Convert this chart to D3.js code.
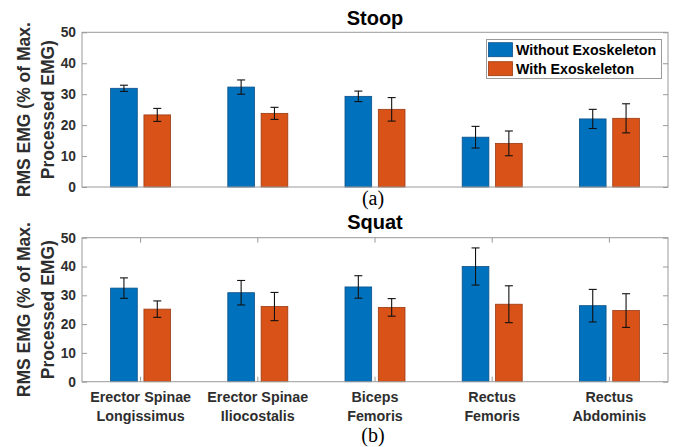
<!DOCTYPE html>
<html>
<head>
<meta charset="utf-8">
<script src="https://cdn.jsdelivr.net/npm/d3@7/dist/d3.min.js"></script>
<style>
  html, body { margin: 0; padding: 0; background: #fff; }
  svg { display: block; font-family: "Liberation Sans", Arial, sans-serif; }
</style>
</head>
<body>
<svg id="chart" width="676" height="447"></svg>
<script>
// Muscle groups (two-line labels on the shared x axis)
const muscles = [
  ["Erector Spinae", "Longissimus"],
  ["Erector Spinae", "Iliocostalis"],
  ["Biceps", "Femoris"],
  ["Rectus", "Femoris"],
  ["Rectus", "Abdominis"]
];
const seriesNames = ["Without Exoskeleton", "With Exoskeleton"];
const seriesColors = ["#0072BD", "#D95319"];
const seriesEdges = ["#0a4f86", "#9a3a12"];

// Stoop task: mean RMS EMG and standard deviation
const stoopWithout    = [31.9, 32.3, 29.3, 16.1, 22.0];
const stoopWithoutErr = [1.0, 2.3, 1.7, 3.5, 3.1];
const stoopWith       = [23.3, 23.8, 25.1, 14.1, 22.2];
const stoopWithErr    = [2.1, 1.95, 3.8, 4.0, 4.7];

// Squat task
const squatWithout    = [32.5, 30.9, 32.9, 40.0, 26.4];
const squatWithoutErr = [3.55, 4.25, 3.9, 6.45, 5.65];
const squatWith       = [25.2, 26.1, 25.8, 26.9, 24.7];
const squatWithErr    = [2.85, 4.9, 3.05, 6.4, 5.85];

const yTicks = [0, 10, 20, 30, 40, 50];

const svg = d3.select("#chart");
const axisColor = "#9a9a9a";
const textColor = "#2e2e2e";

function panel(opts) {
  const { left, right, top, bottom, title, titleY, means, errs, showX, legend, caption, captionY } = opts;
  const g = svg.append("g");
  const keys = muscles.map(m => m.join(" "));
  const x = d3.scaleBand().domain(keys).range([left, right]).padding(0);
  const bw = x.bandwidth();
  const xs = d3.scaleBand().domain([0, 1]).range([bw / 2 - 30, bw / 2 + 30]).paddingInner(0.2);
  const y = d3.scaleLinear().domain([0, 50]).range([bottom, top]);

  // bars
  means.forEach((vals, si) => {
    g.selectAll(null).data(vals).enter().append("rect")
      .attr("x", (d, i) => x(keys[i]) + xs(si))
      .attr("y", d => y(d))
      .attr("width", xs.bandwidth())
      .attr("height", d => y(0) - y(d))
      .attr("fill", seriesColors[si])
      .attr("stroke", seriesEdges[si])
      .attr("stroke-width", 0.8);
  });

  // error bars
  means.forEach((vals, si) => {
    vals.forEach((v, i) => {
      const cx = x(keys[i]) + xs(si) + xs.bandwidth() / 2;
      const e = errs[si][i];
      const eg = g.append("g").attr("stroke", "#111").attr("stroke-width", 1.1);
      eg.append("line").attr("x1", cx).attr("x2", cx).attr("y1", y(v + e)).attr("y2", y(v - e));
      eg.append("line").attr("x1", cx - 4).attr("x2", cx + 4).attr("y1", y(v + e)).attr("y2", y(v + e));
      eg.append("line").attr("x1", cx - 4).attr("x2", cx + 4).attr("y1", y(v - e)).attr("y2", y(v - e));
    });
  });

  // box
  g.append("rect").attr("x", left).attr("y", top).attr("width", right - left).attr("height", bottom - top)
    .attr("fill", "none").attr("stroke", axisColor).attr("stroke-width", 1);

  // left axis
  const ya = d3.axisLeft(y).tickValues(yTicks).tickSize(-5).tickPadding(6);
  const yg = g.append("g").attr("transform", `translate(${left},0)`).call(ya);
  yg.select(".domain").remove();
  yg.selectAll(".tick line").attr("stroke", axisColor);
  yg.selectAll(".tick text").attr("fill", textColor).attr("font-size", 13.8).attr("font-weight", "bold")
    .attr("font-family", "Liberation Sans, Arial, sans-serif");

  // right axis ticks
  const yr = d3.axisRight(y).tickValues(yTicks).tickSize(-5).tickFormat("");
  const yrg = g.append("g").attr("transform", `translate(${right},0)`).call(yr);
  yrg.select(".domain").remove();
  yrg.selectAll(".tick line").attr("stroke", axisColor);

  if (showX) {
    const xb = d3.axisBottom(x).tickSize(-5).tickFormat("");
    const xbg = g.append("g").attr("transform", `translate(0,${bottom})`).call(xb);
    xbg.select(".domain").remove();
    xbg.selectAll(".tick line").attr("stroke", axisColor);
    const xt = d3.axisTop(x).tickSize(-5).tickFormat("");
    const xtg = g.append("g").attr("transform", `translate(0,${top})`).call(xt);
    xtg.select(".domain").remove();
    xtg.selectAll(".tick line").attr("stroke", axisColor);

    muscles.forEach((lines, i) => {
      const t = g.append("text")
        .attr("x", x(keys[i]) + bw / 2)
        .attr("y", bottom + 20)
        .attr("text-anchor", "middle")
        .attr("font-size", 14.3).attr("font-weight", "bold").attr("fill", textColor);
      lines.forEach((ln, k) => {
        t.append("tspan").attr("x", x(keys[i]) + bw / 2).attr("dy", k === 0 ? 0 : 19.5).text(ln);
      });
    });
  }

  // title
  g.append("text").attr("x", (left + right) / 2).attr("y", titleY)
    .attr("text-anchor", "middle").attr("font-size", 20).attr("font-weight", "bold").attr("fill", "#000")
    .text(title);

  // y label (two lines, rotated)
  const cy = (top + bottom) / 2;
  const yl = g.append("text").attr("transform", `translate(30,${cy}) rotate(-90)`)
    .attr("text-anchor", "middle").attr("font-size", 17.5).attr("font-weight", "bold").attr("fill", textColor);
  yl.append("tspan").attr("x", 0).attr("dy", 0).text("RMS EMG (% of Max.");
  yl.append("tspan").attr("x", 0).attr("dy", 24).text("Processed EMG)");

  // caption
  svg.append("text").attr("x", 373).attr("y", captionY)
    .attr("text-anchor", "middle").attr("font-family", "Liberation Serif, Times New Roman, serif")
    .attr("font-size", 20).attr("fill", "#000").text(caption);

  if (legend) {
    const lg = g.append("g");
    lg.append("rect").attr("x", 486.5).attr("y", 39.5).attr("width", 175).attr("height", 39)
      .attr("fill", "#fff").attr("stroke", axisColor).attr("stroke-width", 1);
    seriesNames.forEach((name, si) => {
      const yy = 42.7 + si * 19;
      lg.append("rect").attr("x", 488.5).attr("y", yy).attr("width", 24).attr("height", 14)
        .attr("fill", seriesColors[si]).attr("stroke", seriesEdges[si]).attr("stroke-width", 0.8);
      lg.append("text").attr("x", 516).attr("y", yy + 12.5)
        .attr("font-size", 14.2).attr("font-weight", "bold").attr("fill", "#000").text(name);
    });
  }
}

panel({ left: 82, right: 668, top: 32.3, bottom: 187, title: "Stoop", titleY: 25,
  means: [stoopWithout, stoopWith], errs: [stoopWithoutErr, stoopWithErr],
  showX: false, legend: true, caption: "(a)", captionY: 205 });

panel({ left: 82, right: 668, top: 237.7, bottom: 381.7, title: "Squat", titleY: 228.5,
  means: [squatWithout, squatWith], errs: [squatWithoutErr, squatWithErr],
  showX: true, legend: false, caption: "(b)", captionY: 442 });
</script>
</body>
</html>
